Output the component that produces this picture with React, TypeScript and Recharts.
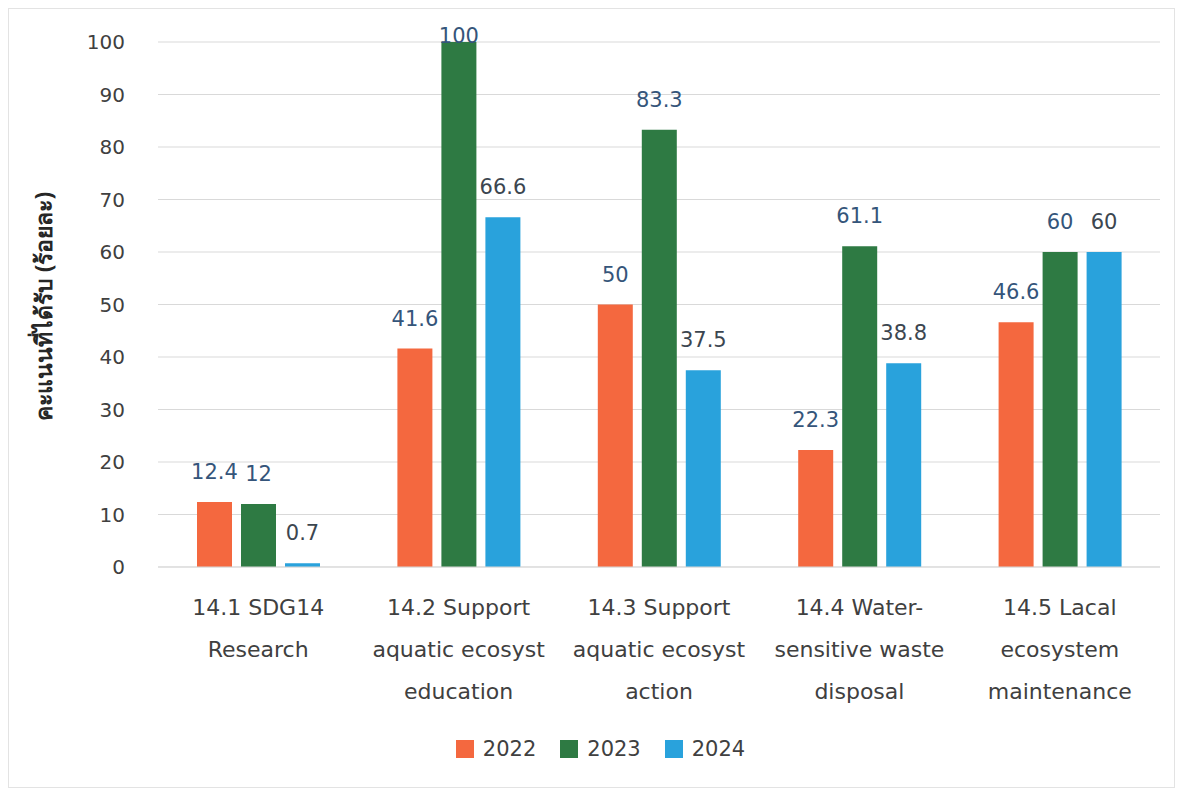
import React from "react";
import { BarChart, Bar, XAxis, YAxis, CartesianGrid, Legend, LabelList } from "recharts";

const categories = [
  "14.1 SDG14\nResearch",
  "14.2 Support\naquatic ecosyst\neducation",
  "14.3 Support\naquatic ecosyst\naction",
  "14.4 Water-\nsensitive waste\ndisposal",
  "14.5 Lacal\necosystem\nmaintenance",
];
const values2022 = [12.4, 41.6, 50, 22.3, 46.6];
const values2023 = [12, 100, 83.3, 61.1, 60];
const values2024 = [0.7, 66.6, 37.5, 38.8, 60];
const years = ["2022", "2023", "2024"];
const yTicks = [0, 10, 20, 30, 40, 50, 60, 70, 80, 90, 100];
const yTitle = "คะแนนที่ได้รับ (ร้อยละ)";

const colors = ["#F4683F", "#2E7A43", "#29A2DC"];
const labelColors = ["#35557A", "#35557A", "#3C4650"];

const data = categories.map((c, i) => ({
  name: c,
  y2022: values2022[i],
  y2023: values2023[i],
  y2024: values2024[i],
}));

const FONT = "DejaVu Sans, sans-serif";

const CategoryTick = (props: any) => {
  const { x, y, payload } = props;
  const lines = String(payload.value).split("\n");
  return (
    <text x={x} y={y} textAnchor="middle" fill="#404040" fontSize={22} fontFamily={FONT}>
      {lines.map((l, i) => (
        <tspan key={i} x={x} dy={i === 0 ? 48 : 42}>
          {l}
        </tspan>
      ))}
    </text>
  );
};

const makeLabel = (color: string) => (props: any) => {
  const { x, y, width, value } = props;
  const cy = Math.max(Number(y) - 30, 27);
  return (
    <text
      x={Number(x) + Number(width) / 2}
      y={cy}
      textAnchor="middle"
      dominantBaseline="central"
      fill={color}
      fontSize={21}
      fontFamily={FONT}
    >
      {value}
    </text>
  );
};

const YTitle = (props: any) => {
  const { viewBox } = props;
  const cx = viewBox.x + 14;
  const cy = viewBox.y + viewBox.height / 2 + 2;
  return (
    <text
      x={cx}
      y={cy}
      transform={`rotate(-90 ${cx} ${cy})`}
      textAnchor="middle"
      dominantBaseline="central"
      fill="#262626"
      fontSize={23}
      fontWeight="bold"
      fontFamily="'Noto Sans', 'DejaVu Sans', sans-serif"
    >
      {yTitle}
    </text>
  );
};

const LegendContent = () => (
  <div
    style={{
      display: "flex",
      justifyContent: "center",
      alignItems: "center",
      gap: 24,
      fontFamily: FONT,
      fontSize: 21,
      color: "#404040",
      paddingLeft: 12,
    }}
  >
    {years.map((yr, i) => (
      <div key={yr} style={{ display: "flex", alignItems: "center", gap: 9 }}>
        <span style={{ display: "inline-block", width: 18, height: 18, background: colors[i] }} />
        <span>{yr}</span>
      </div>
    ))}
  </div>
);

export default function App() {
  const keys = ["y2022", "y2023", "y2024"];
  return (
    <div
      style={{
        width: 1167,
        height: 780,
        border: "1px solid #e3e3e3",
        boxSizing: "border-box",
        background: "#fff",
      }}
    >
      <BarChart
        width={1165}
        height={778}
        data={data}
        margin={{ top: 33, right: 14, bottom: 10, left: 20 }}
        barGap={9}
        barSize={35}
      >
        <CartesianGrid vertical={false} stroke="#d9d9d9" />
        <XAxis
          dataKey="name"
          axisLine={{ stroke: "#d9d9d9" }}
          tickLine={false}
          tickSize={0}
          tickMargin={0}
          height={170}
          interval={0}
          tick={<CategoryTick />}
        />
        <YAxis
          width={129}
          domain={[0, 100]}
          ticks={yTicks}
          axisLine={false}
          tickLine={false}
          tickSize={0}
          tickMargin={33}
          tick={{ fill: "#404040", fontSize: 20, fontFamily: FONT }}
          label={<YTitle />}
        />
        <Legend verticalAlign="bottom" height={40} content={<LegendContent />} />
        {keys.map((k, i) => (
          <Bar key={k} dataKey={k} name={years[i]} fill={colors[i]} isAnimationActive={false}>
            <LabelList dataKey={k} content={makeLabel(labelColors[i])} />
          </Bar>
        ))}
      </BarChart>
    </div>
  );
}
